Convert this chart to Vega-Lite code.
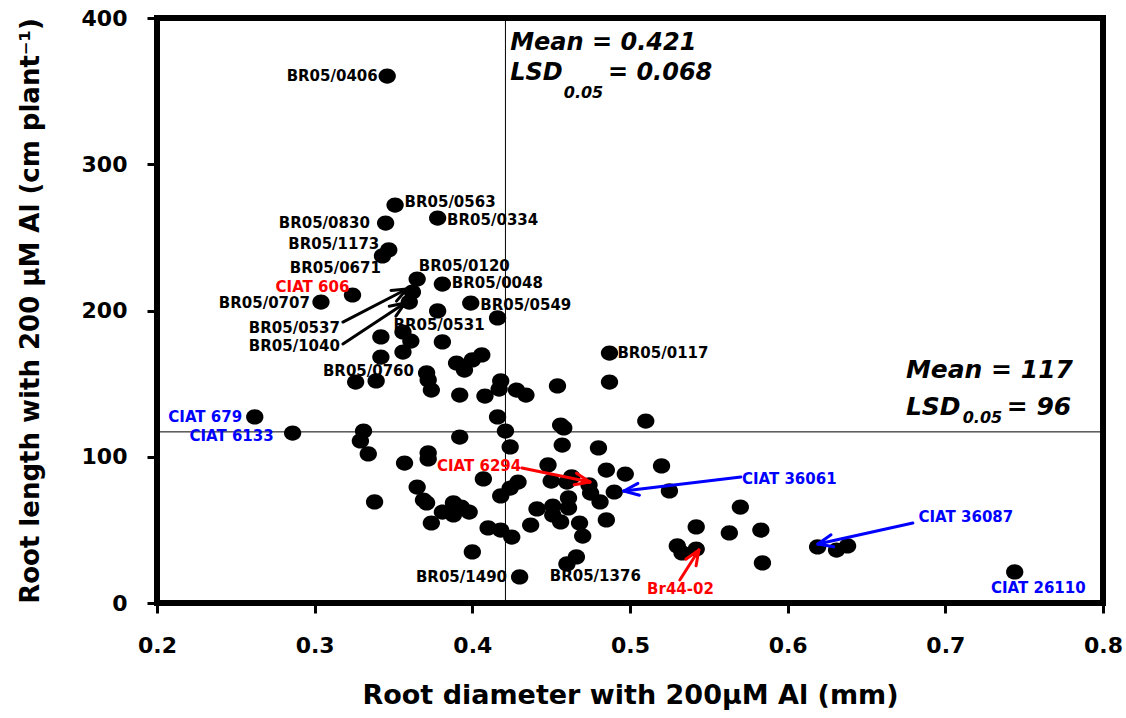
{
  "$schema": "https://vega.github.io/schema/vega-lite/v6.json",
  "width": 946,
  "height": 585,
  "autosize": {"type": "none"},
  "padding": {"left": 157, "top": 18, "right": 23, "bottom": 115},
  "background": "white",
  "datasets": {
    "points": [
      {"rd":0.346,"rl":360.3},{"rd":0.351,"rl":272.1},{"rd":0.345,"rl":259.8},{"rd":0.378,"rl":263.2},
      {"rd":0.343,"rl":237.3},{"rd":0.347,"rl":241.4},{"rd":0.365,"rl":221.5},{"rd":0.381,"rl":218.1},
      {"rd":0.324,"rl":210.6},{"rd":0.304,"rl":205.8},{"rd":0.362,"rl":212.6},{"rd":0.360,"rl":205.8},
      {"rd":0.399,"rl":205.1},{"rd":0.416,"rl":194.9},{"rd":0.378,"rl":199.7},{"rd":0.342,"rl":181.9},
      {"rd":0.356,"rl":185.3},{"rd":0.361,"rl":179.1},{"rd":0.381,"rl":178.5},{"rd":0.356,"rl":171.6},
      {"rd":0.342,"rl":168.2},{"rd":0.390,"rl":164.1},{"rd":0.395,"rl":159.3},{"rd":0.400,"rl":166.2},
      {"rd":0.406,"rl":169.6},{"rd":0.326,"rl":151.1},{"rd":0.339,"rl":151.8},{"rd":0.371,"rl":157.3},
      {"rd":0.372,"rl":152.5},{"rd":0.374,"rl":145.6},{"rd":0.392,"rl":142.2},{"rd":0.408,"rl":141.5},
      {"rd":0.418,"rl":151.8},{"rd":0.417,"rl":146.3},{"rd":0.428,"rl":145.6},{"rd":0.434,"rl":142.2},
      {"rd":0.454,"rl":148.4},{"rd":0.487,"rl":151.1},{"rd":0.487,"rl":170.9},{"rd":0.510,"rl":124.4},
      {"rd":0.262,"rl":127.2},{"rd":0.286,"rl":116.2},{"rd":0.331,"rl":117.6},{"rd":0.329,"rl":110.8},
      {"rd":0.334,"rl":101.9},{"rd":0.392,"rl":113.5},{"rd":0.416,"rl":127.2},{"rd":0.421,"rl":117.6},
      {"rd":0.424,"rl":106.7},{"rd":0.372,"rl":102.6},{"rd":0.372,"rl":98.5},{"rd":0.357,"rl":95.7},
      {"rd":0.456,"rl":121.7},{"rd":0.458,"rl":119.7},{"rd":0.457,"rl":108.0},{"rd":0.480,"rl":106.0},
      {"rd":0.407,"rl":84.8},{"rd":0.365,"rl":79.3},{"rd":0.369,"rl":70.4},{"rd":0.371,"rl":68.4},
      {"rd":0.338,"rl":69.1},{"rd":0.388,"rl":68.4},{"rd":0.393,"rl":65.6},{"rd":0.398,"rl":62.2},
      {"rd":0.381,"rl":62.2},{"rd":0.388,"rl":60.2},{"rd":0.374,"rl":54.7},{"rd":0.410,"rl":51.3},
      {"rd":0.418,"rl":49.9},{"rd":0.425,"rl":45.1},{"rd":0.418,"rl":73.2},{"rd":0.424,"rl":78.6},
      {"rd":0.429,"rl":82.7},{"rd":0.400,"rl":34.9},{"rd":0.430,"rl":17.8},{"rd":0.448,"rl":94.4},
      {"rd":0.450,"rl":83.4},{"rd":0.463,"rl":86.2},{"rd":0.460,"rl":82.7},{"rd":0.474,"rl":80.7},
      {"rd":0.475,"rl":75.2},{"rd":0.485,"rl":90.9},{"rd":0.497,"rl":88.2},{"rd":0.520,"rl":93.7},
      {"rd":0.490,"rl":75.9},{"rd":0.525,"rl":76.6},{"rd":0.481,"rl":69.1},{"rd":0.485,"rl":56.8},
      {"rd":0.441,"rl":64.3},{"rd":0.451,"rl":66.3},{"rd":0.461,"rl":71.8},{"rd":0.461,"rl":65.0},
      {"rd":0.451,"rl":60.2},{"rd":0.456,"rl":55.4},{"rd":0.468,"rl":54.7},{"rd":0.437,"rl":53.3},
      {"rd":0.470,"rl":45.8},{"rd":0.466,"rl":31.5},{"rd":0.460,"rl":26.7},{"rd":0.570,"rl":65.6},
      {"rd":0.542,"rl":52.0},{"rd":0.563,"rl":47.9},{"rd":0.583,"rl":49.9},{"rd":0.530,"rl":39.0},
      {"rd":0.533,"rl":34.2},{"rd":0.542,"rl":36.9},{"rd":0.584,"rl":27.4},{"rd":0.619,"rl":38.3},
      {"rd":0.631,"rl":36.2},{"rd":0.638,"rl":39.0},{"rd":0.744,"rl":21.2}
    ],
    "labels": [
      {"label":"BR05/0406","rd":0.340,"rl":360.3,"side":"right","group":"line"},
      {"label":"BR05/0563","rd":0.357,"rl":274.4,"side":"left","group":"line"},
      {"label":"BR05/0830","rd":0.335,"rl":259.6,"side":"right","group":"line"},
      {"label":"BR05/0334","rd":0.384,"rl":261.9,"side":"left","group":"line"},
      {"label":"BR05/1173","rd":0.341,"rl":245.3,"side":"right","group":"line"},
      {"label":"BR05/0671","rd":0.342,"rl":228.9,"side":"right","group":"line"},
      {"label":"BR05/0120","rd":0.366,"rl":230.4,"side":"left","group":"line"},
      {"label":"CIAT 606","rd":0.322,"rl":215.9,"side":"right","group":"parent"},
      {"label":"BR05/0048","rd":0.387,"rl":219.0,"side":"left","group":"line"},
      {"label":"BR05/0707","rd":0.297,"rl":204.9,"side":"right","group":"line"},
      {"label":"BR05/0549","rd":0.405,"rl":203.8,"side":"left","group":"line"},
      {"label":"BR05/0537","rd":0.316,"rl":187.8,"side":"right","group":"line"},
      {"label":"BR05/1040","rd":0.316,"rl":175.9,"side":"right","group":"line"},
      {"label":"BR05/0531","rd":0.350,"rl":190.1,"side":"left","group":"line"},
      {"label":"BR05/0760","rd":0.363,"rl":158.8,"side":"right","group":"line"},
      {"label":"BR05/0117","rd":0.492,"rl":170.7,"side":"left","group":"line"},
      {"label":"CIAT 679","rd":0.254,"rl":127.4,"side":"right","group":"check"},
      {"label":"CIAT 6133","rd":0.274,"rl":114.2,"side":"right","group":"check"},
      {"label":"CIAT 6294","rd":0.431,"rl":93.9,"side":"right","group":"parent"},
      {"label":"BR05/1490","rd":0.422,"rl":17.6,"side":"right","group":"line"},
      {"label":"BR05/1376","rd":0.478,"rl":18.7,"side":"center","group":"line"},
      {"label":"CIAT 36061","rd":0.571,"rl":84.6,"side":"left","group":"check"},
      {"label":"CIAT 36087","rd":0.683,"rl":58.6,"side":"left","group":"check"},
      {"label":"Br44-02","rd":0.532,"rl":9.4,"side":"center","group":"parent"},
      {"label":"CIAT 26110","rd":0.759,"rl":10.1,"side":"center","group":"check"}
    ],
    "arrows": [
      {"target":"BR05/0537","group":"line","rd":0.3179,"rl":192.1,"rd2":0.3585,"rl2":214.7},
      {"target":"BR05/0537","group":"line","rd":0.3585,"rl":214.7,"rd2":0.3484,"rl2":213.7},
      {"target":"BR05/0537","group":"line","rd":0.3585,"rl":214.7,"rd2":0.3519,"rl2":206.4},
      {"target":"BR05/1040","group":"line","rd":0.3179,"rl":177.1,"rd2":0.3573,"rl2":205.1},
      {"target":"BR05/1040","group":"line","rd":0.3573,"rl":205.1,"rd2":0.3473,"rl2":202.9},
      {"target":"BR05/1040","group":"line","rd":0.3573,"rl":205.1,"rd2":0.3515,"rl2":196.1},
      {"target":"CIAT 6294","group":"parent","rd":0.4315,"rl":92.3,"rd2":0.4746,"rl2":82.7},
      {"target":"CIAT 6294","group":"parent","rd":0.4746,"rl":82.7,"rd2":0.4661,"rl2":88.8},
      {"target":"CIAT 6294","group":"parent","rd":0.4746,"rl":82.7,"rd2":0.4646,"rl2":80.8},
      {"target":"CIAT 36061","group":"check","rd":0.5703,"rl":86.2,"rd2":0.4961,"rl2":76.6},
      {"target":"CIAT 36061","group":"check","rd":0.4961,"rl":76.6,"rd2":0.5060,"rl2":73.7},
      {"target":"CIAT 36061","group":"check","rd":0.4961,"rl":76.6,"rd2":0.5050,"rl2":81.8},
      {"target":"CIAT 36087","group":"check","rd":0.6794,"rl":54.7,"rd2":0.6192,"rl2":40.3},
      {"target":"CIAT 36087","group":"check","rd":0.6192,"rl":40.3,"rd2":0.6292,"rl2":38.5},
      {"target":"CIAT 36087","group":"check","rd":0.6192,"rl":40.3,"rd2":0.6275,"rl2":46.6},
      {"target":"Br44-02","group":"parent","rd":0.5316,"rl":15.7,"rd2":0.5437,"rl2":36.2},
      {"target":"Br44-02","group":"parent","rd":0.5437,"rl":36.2,"rd2":0.5354,"rl2":29.9},
      {"target":"Br44-02","group":"parent","rd":0.5437,"rl":36.2,"rd2":0.5419,"rl2":25.5}
    ],
    "means": [
      {"stat":"mean diameter","rd":0.421,"rd2":0.421,"rl":0,"rl2":400},
      {"stat":"mean length","rd":0.2,"rd2":0.8,"rl":117,"rl2":117}
    ],
    "notes": [
      {"text":"Mean = 0.421","rd":0.424,"rl":378.1,"block":"diameter","part":"label"},
      {"text":"LSD","rd":0.424,"rl":357.6,"block":"diameter","part":"label"},
      {"text":"0.05","rd":0.458,"rl":345.3,"block":"diameter","part":"subscript"},
      {"text":"= 0.068","rd":0.486,"rl":357.6,"block":"diameter","part":"label"},
      {"text":"Mean = 117","rd":0.675,"rl":153.6,"block":"length","part":"label"},
      {"text":"LSD","rd":0.675,"rl":128.5,"block":"length","part":"label"},
      {"text":"0.05","rd":0.711,"rl":122.9,"block":"length","part":"subscript"},
      {"text":"= 96","rd":0.739,"rl":128.5,"block":"length","part":"label"}
    ]
  },
  "encoding": {
    "x": {
      "field": "rd", "type": "quantitative",
      "scale": {"domain": [0.2, 0.8], "nice": false, "zero": false},
      "axis": {
        "title": "Root diameter with 200µM Al (mm)",
        "values": [0.2, 0.3, 0.4, 0.5, 0.6, 0.7, 0.8],
        "format": ".1f",
        "labelPadding": 22,
        "titlePadding": 26,
        "titleFontSize": 27
      }
    },
    "y": {
      "field": "rl", "type": "quantitative",
      "scale": {"domain": [0, 400], "nice": false, "zero": true},
      "axis": {
        "title": "Root length with 200 µM Al (cm plant⁻¹)",
        "values": [0, 100, 200, 300, 400],
        "labelPadding": 20,
        "titlePadding": 38
      }
    }
  },
  "layer": [
    {
      "data": {"name": "means"},
      "mark": {"type": "rule", "color": "black", "strokeWidth": 1},
      "encoding": {"x2": {"field": "rd2"}, "y2": {"field": "rl2"}}
    },
    {
      "data": {"name": "points"},
      "mark": {
        "type": "point",
        "shape": "M-1,0A1,0.88,0,1,1,1,0A1,0.88,0,1,1,-1,0Z",
        "filled": true, "color": "black", "opacity": 1, "size": 300, "strokeWidth": 0
      }
    },
    {
      "data": {"name": "arrows"},
      "mark": {"type": "rule", "strokeWidth": 3, "strokeCap": "round"},
      "encoding": {
        "x2": {"field": "rd2"}, "y2": {"field": "rl2"},
        "color": {"field": "group", "type": "nominal", "legend": null,
          "scale": {"domain": ["line", "parent", "check"], "range": ["#000000", "#ff0000", "#0000ff"]}}
      }
    },
    {
      "data": {"name": "labels"},
      "transform": [{"filter": "datum.side === 'right'"}],
      "mark": {"type": "text", "align": "right", "baseline": "middle", "font": "DejaVu Sans", "fontWeight": "bold", "fontSize": 15},
      "encoding": {
        "text": {"field": "label"},
        "color": {"field": "group", "type": "nominal", "legend": null,
          "scale": {"domain": ["line", "parent", "check"], "range": ["#000000", "#ff0000", "#0000ff"]}}
      }
    },
    {
      "data": {"name": "labels"},
      "transform": [{"filter": "datum.side === 'left'"}],
      "mark": {"type": "text", "align": "left", "baseline": "middle", "font": "DejaVu Sans", "fontWeight": "bold", "fontSize": 15},
      "encoding": {
        "text": {"field": "label"},
        "color": {"field": "group", "type": "nominal", "legend": null,
          "scale": {"domain": ["line", "parent", "check"], "range": ["#000000", "#ff0000", "#0000ff"]}}
      }
    },
    {
      "data": {"name": "labels"},
      "transform": [{"filter": "datum.side === 'center'"}],
      "mark": {"type": "text", "align": "center", "baseline": "middle", "font": "DejaVu Sans", "fontWeight": "bold", "fontSize": 15},
      "encoding": {
        "text": {"field": "label"},
        "color": {"field": "group", "type": "nominal", "legend": null,
          "scale": {"domain": ["line", "parent", "check"], "range": ["#000000", "#ff0000", "#0000ff"]}}
      }
    },
    {
      "data": {"name": "notes"},
      "transform": [{"filter": "datum.part === 'label' && datum.block === 'diameter'"}],
      "mark": {"type": "text", "align": "left", "baseline": "alphabetic", "font": "DejaVu Sans", "fontWeight": "bold", "fontStyle": "italic", "fontSize": 24, "color": "black"},
      "encoding": {"text": {"field": "text"}}
    },
    {
      "data": {"name": "notes"},
      "transform": [{"filter": "datum.part === 'label' && datum.block === 'length'"}],
      "mark": {"type": "text", "align": "left", "baseline": "alphabetic", "font": "DejaVu Sans", "fontWeight": "bold", "fontStyle": "italic", "fontSize": 25, "color": "black"},
      "encoding": {"text": {"field": "text"}}
    },
    {
      "data": {"name": "notes"},
      "transform": [{"filter": "datum.part === 'subscript'"}],
      "mark": {"type": "text", "align": "left", "baseline": "alphabetic", "font": "DejaVu Sans", "fontWeight": "bold", "fontStyle": "italic", "fontSize": 16, "color": "black"},
      "encoding": {"text": {"field": "text"}}
    }
  ],
  "config": {
    "view": {"stroke": "black", "strokeWidth": 6},
    "axis": {
      "domain": false,
      "grid": false,
      "ticks": true,
      "tickSize": 10,
      "tickWidth": 3,
      "tickColor": "black",
      "labelFont": "DejaVu Sans",
      "labelFontWeight": "bold",
      "labelFontSize": 22,
      "labelColor": "black",
      "labelFlush": false,
      "labelOverlap": false,
      "titleFont": "DejaVu Sans",
      "titleFontWeight": "bold",
      "titleFontSize": 26,
      "titleColor": "black"
    }
  }
}
